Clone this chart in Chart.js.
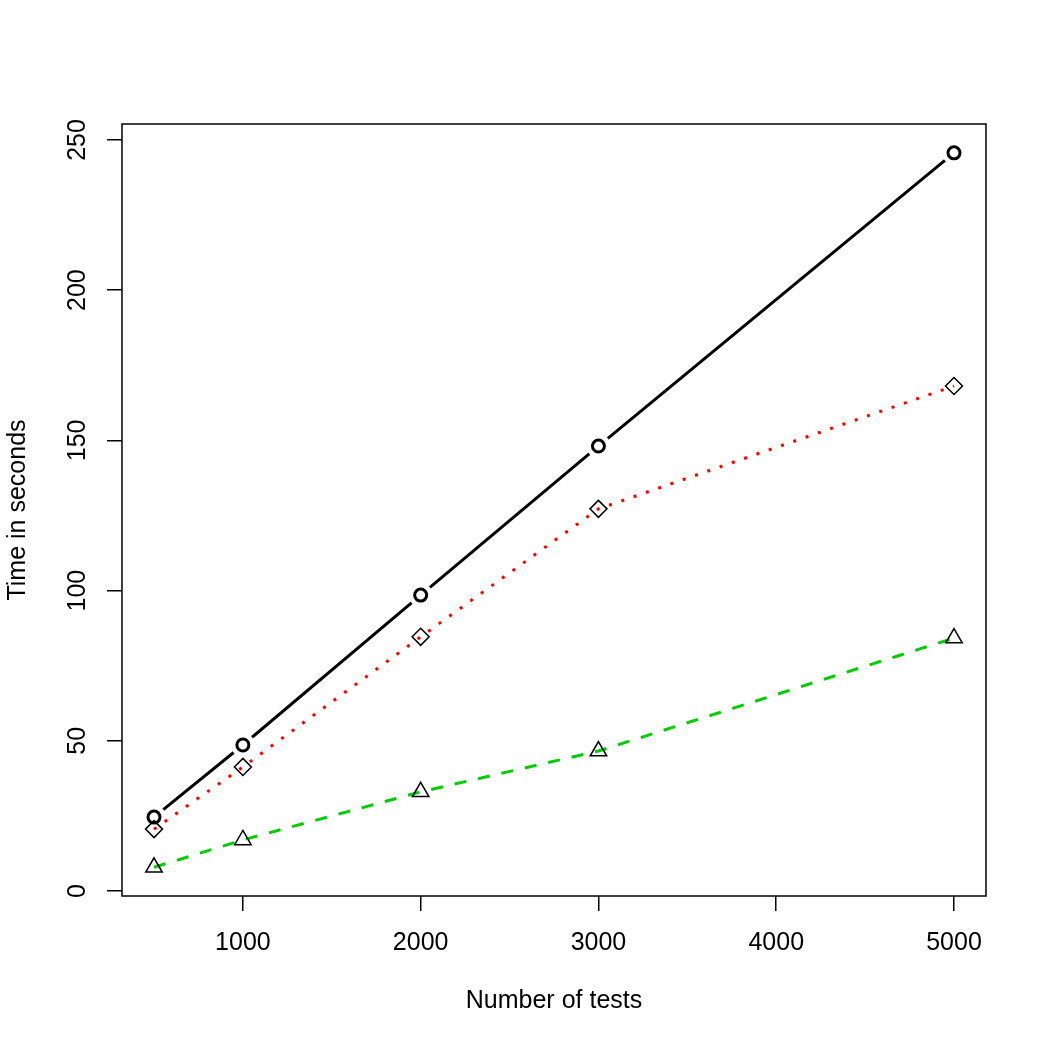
<!DOCTYPE html>
<html>
<head>
<meta charset="utf-8">
<script src="https://cdn.jsdelivr.net/npm/chart.js@4/dist/chart.umd.min.js"></script>
<style>
  html, body { margin: 0; padding: 0; background: #fff; }
  canvas { display: block; }
</style>
</head>
<body>
<canvas id="chart" width="1050" height="1050"></canvas>
<script>
// data
const nTests = [500, 1000, 2000, 3000, 5000];
const timeBlack = [24.6, 48.6, 98.5, 148.1, 245.7];
const timeRed = [20.6, 41.3, 84.6, 127.2, 168.1];
const timeGreen = [7.9, 17.0, 33.0, 46.6, 84.2];
const xTicks = [1000, 2000, 3000, 4000, 5000];
const yTicks = [0, 50, 100, 150, 200, 250];

const FONT = "'Liberation Sans', Arial, sans-serif";
const FSIZE = 25;

function pts(ys) {
    return nTests.map((x, i) => ({ x: x, y: ys[i] }));
}

// box round the plot + rotated y tick labels (R style)
const rPlot = {
    id: 'rPlot',
    afterDraw(chart) {
        const ctx = chart.ctx;
        const a = chart.chartArea;
        ctx.save();
        ctx.strokeStyle = '#000';
        ctx.lineWidth = 1.5;
        ctx.strokeRect(a.left, a.top, a.right - a.left, a.bottom - a.top);
        ctx.fillStyle = '#000';
        ctx.font = FSIZE + 'px ' + FONT;
        ctx.textAlign = 'center';
        ctx.textBaseline = 'middle';
        const y = chart.scales.y;
        yTicks.forEach(v => {
            ctx.save();
            ctx.translate(78, y.getPixelForValue(v));
            ctx.rotate(-Math.PI / 2);
            ctx.fillText(String(v), 0, 0);
            ctx.restore();
        });
        ctx.restore();
    }
};

const ctx = document.getElementById('chart').getContext('2d');
new Chart(ctx, {
    type: 'line',
    data: {
        datasets: [
            {
                // black line (drawn first)
                data: pts(timeBlack),
                borderColor: '#000',
                borderWidth: 3,
                pointRadius: 0,
                order: 5
            },
            {
                // white halo: gaps of type="b"
                data: pts(timeBlack),
                showLine: false,
                pointRadius: 12,
                pointBorderWidth: 0,
                pointBackgroundColor: '#fff',
                pointBorderColor: '#fff',
                order: 4
            },
            {
                data: pts(timeBlack),
                showLine: false,
                pointStyle: 'circle',
                pointRadius: 6,
                pointBorderWidth: 3,
                pointBorderColor: '#000',
                pointBackgroundColor: 'rgba(0,0,0,0)',
                order: 3
            },
            {
                data: pts(timeRed),
                borderColor: '#ff0000',
                borderWidth: 3,
                borderDash: [3, 10],
                pointStyle: 'rectRot',
                pointRadius: 8.5,
                pointBorderWidth: 1.5,
                pointBorderColor: '#000',
                pointBackgroundColor: 'rgba(0,0,0,0)',
                order: 2
            },
            {
                data: pts(timeGreen),
                borderColor: '#00cd00',
                borderWidth: 3,
                borderDash: [12, 12],
                pointStyle: 'triangle',
                pointRadius: 9.5,
                pointBorderWidth: 1.5,
                pointBorderColor: '#000',
                pointBackgroundColor: 'rgba(0,0,0,0)',
                order: 1
            }
        ]
    },
    options: {
        responsive: false,
        animation: false,
        layout: { padding: { top: 124, right: 64, left: 0, bottom: 0 } },
        plugins: {
            legend: { display: false },
            tooltip: { enabled: false }
        },
        scales: {
            x: {
                type: 'linear',
                min: 320,
                max: 5180,
                afterBuildTicks: s => { s.ticks = xTicks.map(v => ({ value: v })); },
                afterFit: s => { s.height = 154; },
                grid: { drawOnChartArea: false, drawTicks: true, tickLength: 15, color: '#000', lineWidth: 1.5 },
                border: { display: false },
                ticks: {
                    color: '#000',
                    padding: 17,
                    maxRotation: 0,
                    font: { family: FONT, size: FSIZE },
                    callback: v => String(v)
                },
                title: {
                    display: true,
                    text: 'Number of tests',
                    color: '#000',
                    font: { family: FONT, size: FSIZE },
                    padding: { top: 0, bottom: 34 }
                }
            },
            y: {
                type: 'linear',
                min: -1.66,
                max: 255.3,
                afterBuildTicks: s => { s.ticks = yTicks.map(v => ({ value: v })); },
                afterFit: s => { s.width = 122; },
                grid: { drawOnChartArea: false, drawTicks: true, tickLength: 15, color: '#000', lineWidth: 1.5 },
                border: { display: false },
                ticks: {
                    color: 'rgba(0,0,0,0)',
                    font: { family: FONT, size: FSIZE }
                },
                title: {
                    display: true,
                    text: 'Time in seconds',
                    color: '#000',
                    font: { family: FONT, size: FSIZE },
                    padding: { top: 3, bottom: 0 }
                }
            }
        }
    },
    plugins: [rPlot]
});
</script>
</body>
</html>
